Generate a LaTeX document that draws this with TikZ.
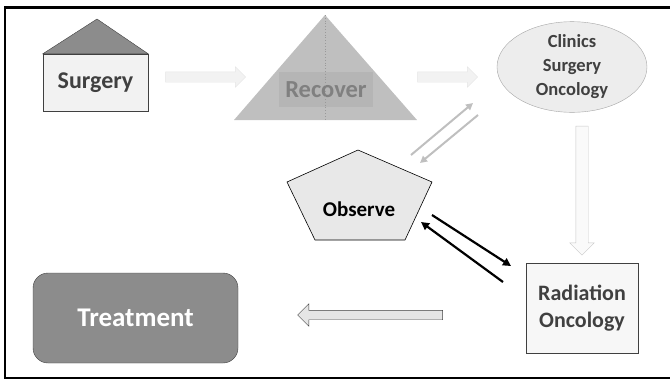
\documentclass[tikz,border=0pt]{standalone}
\usepackage{fontspec}
\setmainfont{Carlito}
\usetikzlibrary{arrows.meta,positioning,calc,shapes.geometric,shapes.arrows}

\definecolor{inktext}{HTML}{404040}
\definecolor{roofgray}{HTML}{8C8C8C}
\definecolor{trigray}{HTML}{BFBFBF}
\definecolor{paleline}{HTML}{BFBFBF}

\begin{document}
\begin{tikzpicture}[x=1pt,y=-1pt,
		blockarrow/.style={single arrow, inner sep=5pt, single arrow head extend=5pt, single arrow head indent=0pt},
		labeltext/.style={font=\bfseries, text=inktext, align=center}]
		\useasboundingbox (0,0) rectangle (670,381);
		% frame
		\draw [line width = 3pt] (670,7) -- (5,7);
		\draw [line width = 2pt] (5,6) -- (5,378) -- (670,378);
		% surgery house
		\node [draw=inktext, fill=black!5, minimum width=105pt, minimum height=57pt, labeltext, font=\fontsize{24}{26}\selectfont\bfseries](surgery) at (95.5,82.5) {Surgery};
		\coordinate (roof) at (97,19);
		\draw [draw=inktext, fill=roofgray] (surgery.north west) -- (roof) -- (surgery.north east) -- cycle;
		% recover triangle
		\coordinate (r_top) at (325,15);
		\coordinate (r_left) at (234,120);
		\coordinate (r_right) at (417,120);
		\fill [trigray] (r_left) -- (r_top) -- (r_right) -- cycle;
		\node [fill=black!29, minimum width=94pt, minimum height=35pt, font=\fontsize{24.5}{26}\selectfont\bfseries, text=black!50](recover) at (326,89.5) {Recover};
		\draw [black!40, dotted, line width=0.8pt] (r_top) -- (r_top |- r_left);
		% clinics
		\node [ellipse, draw=black!35, fill=black!7, minimum width=150pt, minimum height=87pt, inner sep=0pt, labeltext, font=\fontsize{18.5}{24}\selectfont\bfseries](clinics) at (572,67) {Clinics\\Surgery\\Oncology};
		% observe pentagon
		\coordinate (o_top) at (358,150);
		\coordinate (o_ru) at (432,182);
		\coordinate (o_rl) at (405,240);
		\coordinate (o_ll) at (315,240);
		\coordinate (o_lu) at (287,182);
		\draw [fill=black!9, line width=0.6pt] (o_top) -- (o_ru) -- (o_rl) -- (o_ll) -- (o_lu) -- cycle;
		\node [font=\fontsize{21}{24}\selectfont\bfseries](observe) at (359,209) {Observe};
		% radiation
		\node [draw=inktext, fill=black!3, minimum width=112pt, minimum height=90pt, labeltext, font=\fontsize{22}{27}\selectfont\bfseries](radiation) at (582,308) {Radiation\\Oncology};
		% treatment
		\node [draw=black!75, fill=roofgray, rounded corners=15pt, minimum width=205pt, minimum height=90pt, text=white, font=\fontsize{27}{30}\selectfont\bfseries](treatment) at (135.5,318) {Treatment};
		% block arrows
		\node [blockarrow, draw=black!10, fill=black!5, minimum height=80pt](sr_arrow) at (203,77) {};
		\node [blockarrow, draw=black!10, fill=black!5, minimum height=60pt](rc_arrow) at (445,77) {};
		\node [blockarrow, inner sep=6pt, shape border rotate=270, draw=black!22, fill=black!2, minimum height=129pt, single arrow head extend=6pt](cr_arrow) at (582,187.5) {};
		\node [blockarrow, inner sep=4.5pt, shape border rotate=180, draw=inktext, fill=black!10, minimum height=145pt, single arrow head extend=6.5pt](rt_arrow) at (372.5,315) {};
		% observe <-> clinics
		\coordinate (oc_a) at (411,155);
		\coordinate (oc_b) at (473,103);
		\coordinate (co_a) at (478,115);
		\coordinate (co_b) at (420,163);
		\draw [-{Triangle[length=7pt,width=7pt]}, paleline, line width=2pt] (oc_a) -- (oc_b);
		\draw [-{Triangle[length=7pt,width=7pt]}, paleline, line width=2pt] (co_a) -- (co_b);
		% observe <-> radiation
		\coordinate (or_a) at (432,215);
		\coordinate (or_b) at (511,266);
		\coordinate (ro_a) at (503,282);
		\coordinate (ro_b) at (421,222);
		\draw [-{Triangle[length=8pt,width=8pt]}, line width=2.2pt] (or_a) -- (or_b);
		\draw [-{Triangle[length=8pt,width=8pt]}, line width=2.2pt] (ro_a) -- (ro_b);
\end{tikzpicture}
\end{document}
